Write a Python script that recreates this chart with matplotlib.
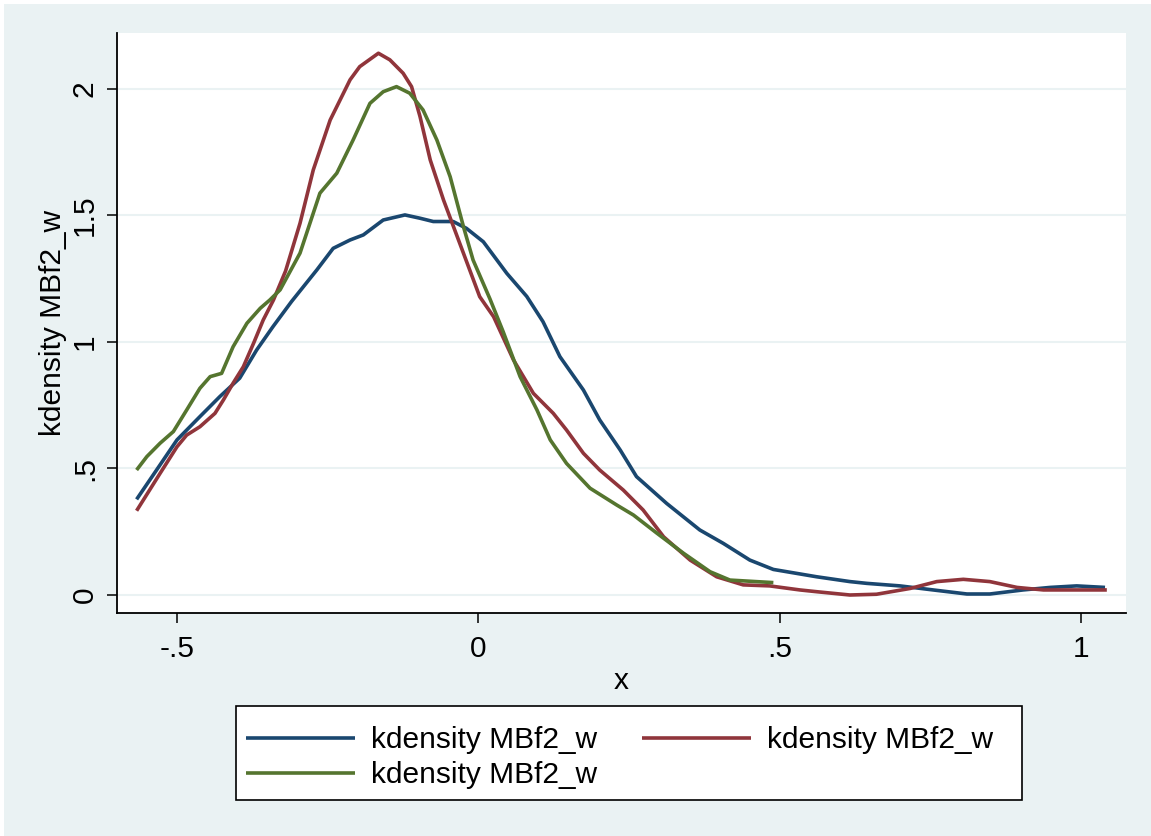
import numpy as np
import matplotlib.pyplot as plt
from matplotlib.patches import Rectangle

# kernel density curves (x, density)
blue_x = [-0.567, -0.535, -0.500, -0.462, -0.429, -0.396, -0.368, -0.341, -0.310,
          -0.268, -0.241, -0.213, -0.191, -0.158, -0.122, -0.097, -0.075, -0.042,
          -0.020, 0.008, 0.047, 0.080, 0.107, 0.135, 0.174, 0.201, 0.235, 0.262,
          0.312, 0.367, 0.406, 0.450, 0.489, 0.561, 0.616, 0.644, 0.699, 0.754,
          0.810, 0.848, 0.903, 0.948, 0.992, 1.039]
blue_y = [0.378, 0.490, 0.613, 0.705, 0.784, 0.857, 0.968, 1.060, 1.160,
          1.285, 1.370, 1.403, 1.423, 1.482, 1.502, 1.489, 1.476, 1.476,
          1.449, 1.396, 1.271, 1.180, 1.080, 0.942, 0.810, 0.692, 0.573, 0.468,
          0.362, 0.257, 0.204, 0.138, 0.101, 0.072, 0.053, 0.046, 0.036, 0.020,
          0.004, 0.004, 0.020, 0.030, 0.036, 0.030]

red_x = [-0.567, -0.528, -0.500, -0.484, -0.462, -0.437, -0.423, -0.407, -0.390,
         -0.373, -0.357, -0.340, -0.320, -0.296, -0.274, -0.246, -0.213, -0.197,
         -0.166, -0.147, -0.125, -0.111, -0.097, -0.080, -0.058, -0.025, 0.002,
         0.025, 0.058, 0.091, 0.124, 0.146, 0.174, 0.201, 0.240, 0.273, 0.307,
         0.351, 0.395, 0.439, 0.483, 0.533, 0.561, 0.616, 0.660, 0.716, 0.760,
         0.804, 0.848, 0.893, 0.937, 0.981, 1.042]
red_y = [0.333, 0.481, 0.586, 0.632, 0.665, 0.718, 0.771, 0.837, 0.902,
         0.995, 1.087, 1.166, 1.280, 1.469, 1.680, 1.877, 2.036, 2.088,
         2.141, 2.115, 2.062, 2.009, 1.891, 1.719, 1.561, 1.351, 1.179,
         1.100, 0.929, 0.797, 0.718, 0.652, 0.560, 0.494, 0.415, 0.336, 0.230,
         0.138, 0.072, 0.040, 0.036, 0.020, 0.013, 0.000, 0.003, 0.026, 0.053,
         0.062, 0.053, 0.030, 0.020, 0.020, 0.020]

green_x = [-0.567, -0.550, -0.528, -0.506, -0.484, -0.462, -0.445, -0.426, -0.407,
           -0.384, -0.362, -0.346, -0.329, -0.296, -0.263, -0.235, -0.208, -0.180,
           -0.158, -0.136, -0.114, -0.092, -0.069, -0.047, -0.025, -0.009, 0.019,
           0.041, 0.069, 0.097, 0.119, 0.146, 0.185, 0.229, 0.257, 0.296, 0.340,
           0.384, 0.417, 0.489]
green_y = [0.494, 0.547, 0.600, 0.646, 0.731, 0.817, 0.863, 0.876, 0.981,
           1.074, 1.133, 1.166, 1.206, 1.351, 1.588, 1.667, 1.798, 1.943,
           1.989, 2.009, 1.983, 1.917, 1.798, 1.653, 1.456, 1.324, 1.170,
           1.040, 0.863, 0.731, 0.613, 0.520, 0.422, 0.356, 0.316, 0.244, 0.165,
           0.092, 0.059, 0.049]

labels = ["kdensity MBf2_w", "kdensity MBf2_w", "kdensity MBf2_w"]
xticks = [-0.5, 0, 0.5, 1]
xtick_labels = ["-.5", "0", ".5", "1"]
yticks = [0, 0.5, 1, 1.5, 2]
ytick_labels = ["0", ".5", "1", "1.5", "2"]

plt.rcParams['font.family'] = ['Liberation Sans', 'DejaVu Sans']
bg = '#eaf2f3'
navy, maroon, forest = '#1a476f', '#90353b', '#55752f'
fs = 21.5
W, H = 1151, 836

fig = plt.figure(figsize=(W / 100, H / 100), dpi=100)
fig.patch.set_facecolor('white')
fig.patches.append(Rectangle((4 / W, 0), 1, 1 - 4 / H, transform=fig.transFigure,
                             facecolor=bg, edgecolor='none', zorder=-10))

ax = fig.add_axes([117 / W, 1 - 613 / H, (1126 - 117) / W, (613 - 33) / H])
ax.set_facecolor('white')

for yv in yticks:
    ax.axhline(yv, color=bg, lw=1.5, zorder=0)

lw = 2.6
l1, = ax.plot(blue_x, blue_y, color=navy, lw=lw, solid_capstyle='butt')
l2, = ax.plot(red_x, red_y, color=maroon, lw=lw, solid_capstyle='butt')
l3, = ax.plot(green_x, green_y, color=forest, lw=lw, solid_capstyle='butt')

ax.set_xlim(-0.5995, 1.0738)
ax.set_ylim(-0.0711, 2.221)
ax.set_xticks(xticks)
ax.set_xticklabels(xtick_labels, fontsize=fs)
ax.set_yticks(yticks)
ax.set_yticklabels(ytick_labels, fontsize=fs, rotation=90, va='center')
ax.tick_params(axis='x', length=7, width=1.1, direction='out', pad=9)
ax.tick_params(axis='y', length=7, width=1.1, direction='out', pad=6)
for s in ['top', 'right']:
    ax.spines[s].set_visible(False)
for s in ['left', 'bottom']:
    ax.spines[s].set_linewidth(1.3)

ax.set_xlabel("x", fontsize=fs, labelpad=3)
ax.set_ylabel("kdensity MBf2_w", fontsize=fs, labelpad=3)

# legend box drawn separately, Stata style
fig.patches.append(Rectangle((236 / W, 1 - 800 / H), (1022 - 236) / W, (800 - 706) / H,
                             transform=fig.transFigure, facecolor='white',
                             edgecolor='black', lw=1.2, zorder=1))
leg = fig.legend([l1, l3, l2], [labels[0], labels[2], labels[1]], ncol=2,
                 loc='upper left', bbox_to_anchor=(246 / W, 1 - 726 / H),
                 fontsize=fs, frameon=False, handlelength=3.65, handletextpad=0.53,
                 columnspacing=1.5, labelspacing=0.25, borderpad=0, borderaxespad=0)

fig.savefig('out.png', dpi=100, facecolor=fig.get_facecolor())
